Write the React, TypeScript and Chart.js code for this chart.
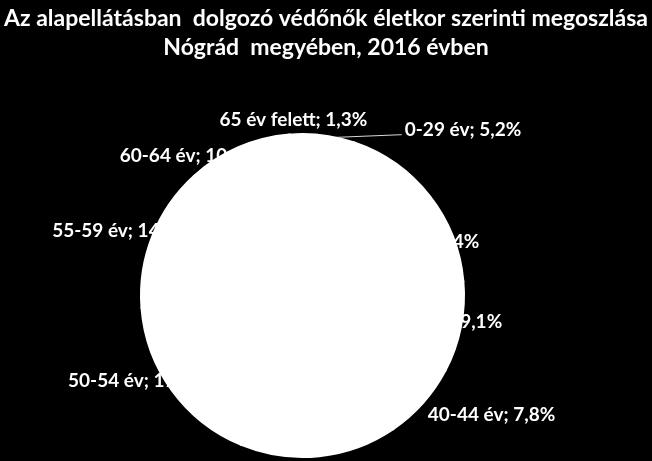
import React, { useEffect, useRef } from "react";
import { Chart, registerables } from "chart.js";

Chart.register(...registerables);

// ---- data ----
const categories = [
  "0-29 év",
  "30-34 év",
  "35-39 év",
  "40-44 év",
  "45-49 év",
  "50-54 év",
  "55-59 év",
  "60-64 év",
  "65 év felett",
];
const shares = [5.2, 18.4, 9.1, 7.8, 15.7, 17.6, 14.5, 10.4, 1.3];
const titleLines = [
  "Az alapellátásban  dolgozó védőnők életkor szerinti megoszlása",
  "Nógrád  megyében, 2016 évben",
];

// ---- label styling (angle shift from slice middle in degrees, distance in radii, alignment) ----
const labelShift = [22.3, 21.3, -3.9, 1.8, 0, 16, -7.3, -29.3, -0.6];
const labelDist = [1.21, 1.148, 1.251, 1.074, 1.15, 1.55, 1.606, 1.427, 1.093];
const labelAlign: CanvasTextAlign[] = [
  "left",
  "right",
  "right",
  "left",
  "center",
  "left",
  "left",
  "left",
  "center",
];

const FONT_FAMILY = "Lato, 'Liberation Sans', sans-serif";

const fmt = (v: number) => v.toFixed(1).replace(".", ",");

const bgPlugin = {
  id: "blackBg",
  beforeDraw(chart: any) {
    const { ctx, width, height } = chart;
    ctx.save();
    ctx.fillStyle = "#000";
    ctx.fillRect(0, 0, width, height);
    ctx.restore();
  },
};

const labelPlugin = {
  id: "sliceLabels",
  beforeDatasetsDraw(chart: any) {
    const ctx = chart.ctx;
    const meta = chart.getDatasetMeta(0);
    ctx.save();
    ctx.font = `bold 19px ${FONT_FAMILY}`;
    ctx.fillStyle = "#fff";
    ctx.textBaseline = "middle";
    meta.data.forEach((arc: any, i: number) => {
      const { x, y, startAngle, endAngle, outerRadius } = arc.getProps(
        ["x", "y", "startAngle", "endAngle", "outerRadius"],
        true
      );
      const mid = (startAngle + endAngle) / 2;
      const a = mid + (labelShift[i] * Math.PI) / 180;
      const r = outerRadius * labelDist[i];
      const lx = x + Math.cos(a) * r;
      const ly = y + Math.sin(a) * r;
      ctx.textAlign = labelAlign[i];
      ctx.fillText(`${categories[i]}; ${fmt(shares[i])}%`, lx, ly);
      if (i === 0) {
        ctx.strokeStyle = "#d9d9d9";
        ctx.lineWidth = 1;
        ctx.beginPath();
        ctx.moveTo(x + Math.cos(mid) * outerRadius, y + Math.sin(mid) * outerRadius + 1);
        ctx.lineTo(lx - 3, ly + 5);
        ctx.stroke();
      }
    });
    ctx.restore();
  },
};

const titlePlugin = {
  id: "twoLineTitle",
  afterDraw(chart: any) {
    const { ctx, width } = chart;
    ctx.save();
    ctx.font = `bold 23px ${FONT_FAMILY}`;
    ctx.fillStyle = "#fff";
    ctx.textAlign = "center";
    ctx.textBaseline = "middle";
    titleLines.forEach((line, i) => {
      ctx.fillText(line, width / 2, 19 + i * 29);
    });
    ctx.restore();
  },
};

export default function App() {
  const ref = useRef<HTMLCanvasElement | null>(null);

  useEffect(() => {
    document.body.style.margin = "0";
    document.body.style.background = "#000";
    const canvas = ref.current;
    if (!canvas) return;
    const chart = new Chart(canvas, {
      type: "pie",
      data: {
        labels: categories,
        datasets: [
          {
            data: shares,
            backgroundColor: "#ffffff",
            borderColor: "#ffffff",
            borderWidth: 3,
            borderJoinStyle: "round",
            hoverOffset: 0,
          },
        ],
      },
      options: {
        responsive: false,
        animation: false,
        devicePixelRatio: 1,
        layout: { padding: { top: 133, left: 140, right: 187, bottom: 3 } },
        plugins: {
          legend: { display: false },
          title: { display: false },
          tooltip: { enabled: false },
        },
      },
      plugins: [bgPlugin, labelPlugin, titlePlugin],
    });
    return () => chart.destroy();
  }, []);

  return (
    <div style={{ width: 652, height: 461, background: "#000" }}>
      <canvas ref={ref} width={652} height={461} />
    </div>
  );
}
